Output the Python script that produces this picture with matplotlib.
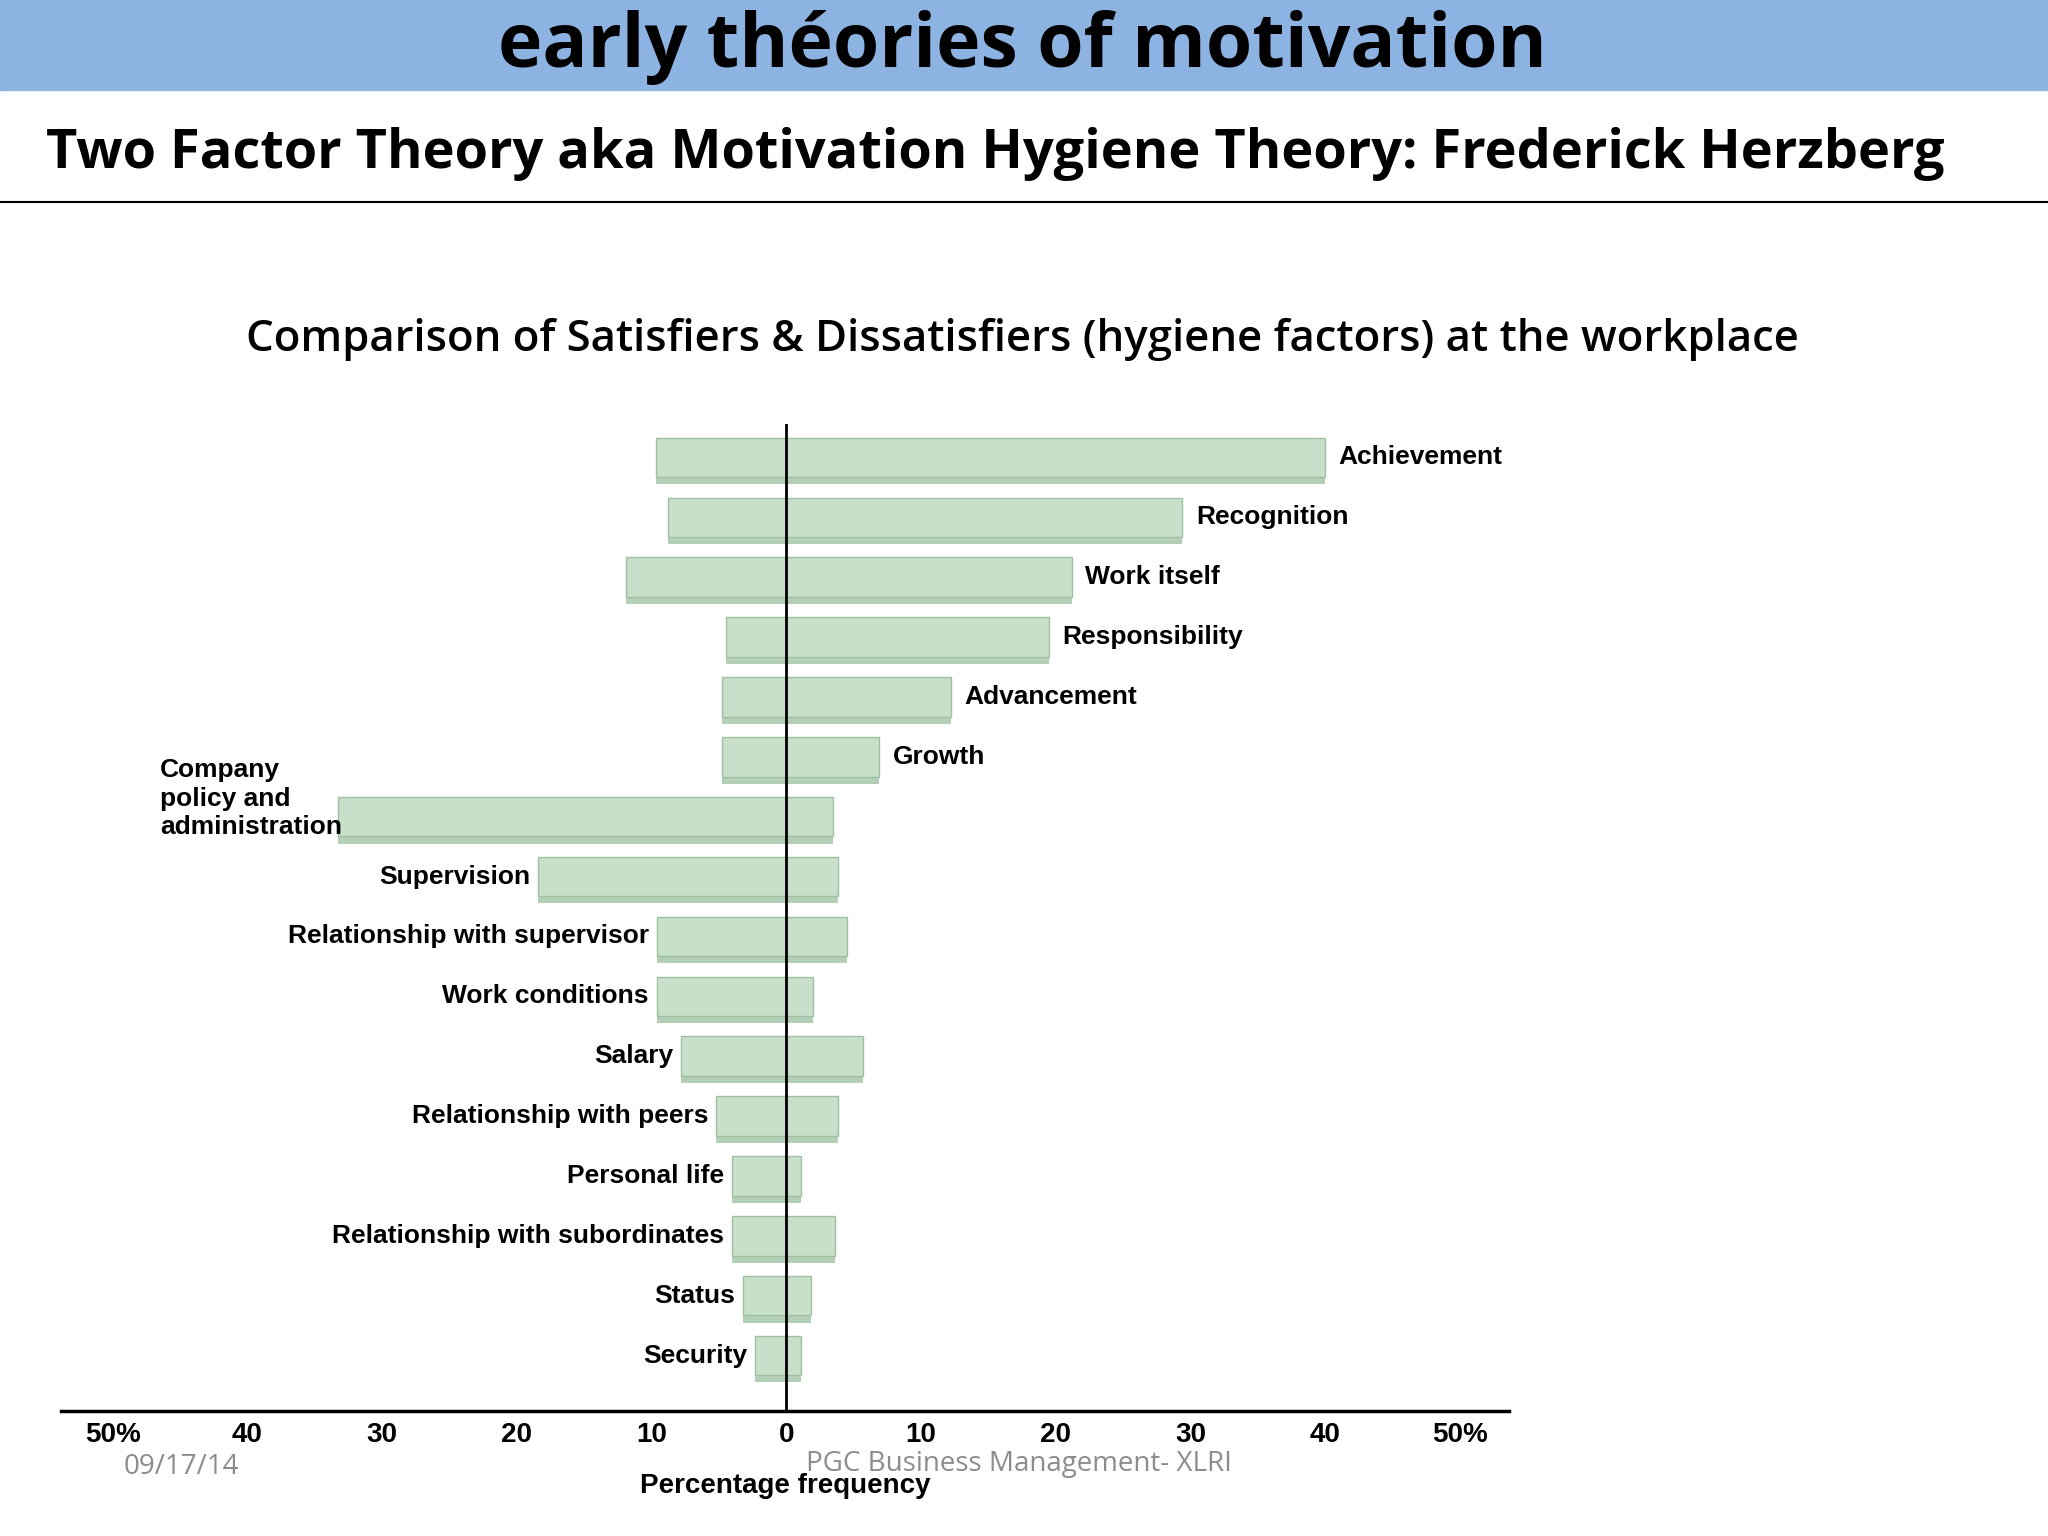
import matplotlib
matplotlib.use("Agg")
import matplotlib.pyplot as plt

factors = ["Achievement", "Recognition", "Work itself", "Responsibility", "Advancement", "Growth",
           "Company\npolicy and\nadministration", "Supervision", "Relationship with supervisor",
           "Work conditions", "Salary", "Relationship with peers", "Personal life",
           "Relationship with subordinates", "Status", "Security"]
dissatisfiers = [9.7, 8.8, 11.9, 4.5, 4.8, 4.8, 33.3, 18.4, 9.6, 9.6, 7.8, 5.2, 4.0, 4.0, 3.2, 2.3]
satisfiers = [40.0, 29.4, 21.2, 19.5, 12.2, 6.9, 3.5, 3.8, 4.5, 2.0, 5.7, 3.8, 1.1, 3.6, 1.8, 1.1]
tick_vals = [-50, -40, -30, -20, -10, 0, 10, 20, 30, 40, 50]
tick_labels = ["50%", "40", "30", "20", "10", "0", "10", "20", "30", "40", "50%"]

W, H = 1568, 1176
fig = plt.figure(figsize=(20.48, 15.36), dpi=100)
fig.patch.set_facecolor("white")

fig.patches.append(plt.Rectangle((0, 1 - 69 / H), 1, 69 / H, transform=fig.transFigure,
                                 color="#8DB3E2", zorder=0))
fig.text(783 / W, 1 - 36 / H, "early théories of motivation", ha="center", va="center",
         fontsize=54, fontweight="bold", family="Open Sans")
fig.text(35 / W, 1 - 118 / H, "Two Factor Theory aka Motivation Hygiene Theory: Frederick Herzberg",
         ha="left", va="center", fontsize=39, fontweight="bold", family="Open Sans")
fig.add_artist(plt.Line2D([0, 1], [1 - 155 / H] * 2, transform=fig.transFigure, color="black", lw=1.5))
fig.text(783 / W, 1 - 260 / H,
         "Comparison of Satisfiers & Dissatisfiers (hygiene factors) at the workplace",
         ha="center", va="center", fontsize=31.5, fontweight="semibold", family="Open Sans")

ax = fig.add_axes([47 / W, 1 - 1080 / H, (1155 - 47) / W, (1080 - 325) / H])
ax.set_xlim(-53.8, 53.6)
n = len(factors)
ax.set_ylim(n - 0.08, -0.55)
y = list(range(n))
face = "#C8E0CA"
ax.barh([v + 0.1 for v in y], [-d for d in dissatisfiers], height=0.7, color="#B3D0B6", zorder=1)
ax.barh([v + 0.1 for v in y], satisfiers, height=0.7, color="#B3D0B6", zorder=1)
ax.barh(y, [-d for d in dissatisfiers], height=0.66, color=face, edgecolor="#9FBFA3", lw=1, zorder=2)
ax.barh(y, satisfiers, height=0.66, color=face, edgecolor="#9FBFA3", lw=1, zorder=2)
ax.axvline(0, color="black", lw=2, zorder=3)

lab = dict(fontsize=19, fontweight="bold", family="Liberation Sans")
for i, (f, d, s) in enumerate(zip(factors, dissatisfiers, satisfiers)):
    if i < 6:
        ax.text(s + 1.0, i, f, ha="left", va="center", **lab)
    elif i == 6:
        ax.text(-46.5, i - 0.3, f, ha="left", va="center", linespacing=1.25, **lab)
    else:
        ax.text(-d - 0.6, i, f, ha="right", va="center", **lab)

for s in ["top", "right", "left"]:
    ax.spines[s].set_visible(False)
ax.spines["bottom"].set_linewidth(2.5)
ax.set_yticks([])
ax.set_xticks(tick_vals)
ax.set_xticklabels(tick_labels, fontsize=20, fontweight="bold", family="Liberation Sans")
ax.tick_params(axis="x", length=0, pad=8)
ax.set_xlabel("Percentage frequency", fontsize=20, fontweight="bold", family="Liberation Sans",
              labelpad=18)

fig.text(95 / W, 1 - 1123 / H, "09/17/14", ha="left", va="center", fontsize=20, color="#8C8C8C",
         family="Open Sans")
fig.text(780 / W, 1 - 1121 / H, "PGC Business Management- XLRI", ha="center", va="center",
         fontsize=20, color="#8C8C8C", family="Open Sans")

fig.savefig("out.png", dpi=100)
